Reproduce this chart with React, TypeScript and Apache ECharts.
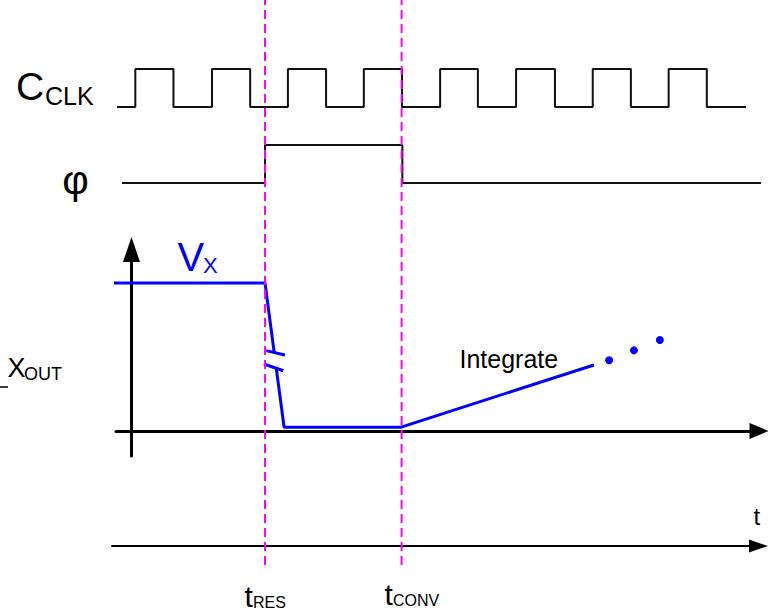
import React, { useEffect, useRef } from "react";
import * as echarts from "echarts";

// time unit = half clock period; t = 0 at the V axis
const clockT = [-0.38, 0.1, 1.1, 2.11, 3.11, 4.1, 5.1, 6.09, 7.09, 8.09, 9.08, 10.08, 11.1, 12.09, 13.09, 14.08, 15.08, 16.11];
const clockLevel = [0, 1, 0, 1, 0, 1, 0, 1, 0, 1, 0, 1, 0, 1, 0, 1, 0, 0];

const phiT = [-0.25, 3.5, 7.1, 16.5];
const phiLevel = [0, 1, 0, 0];

const vxUpperT = [-0.54, 3.5, 3.74];
const vxUpperV = [1, 1, 0.53];
const vxLowerT = [3.79, 4.0, 7.05, 12.12];
const vxLowerV = [0.432, 0.025, 0.025, 0.446];

const breakUpperT = [3.53, 4.02];
const breakUpperV = [0.543, 0.514];
const breakLowerT = [3.47, 3.98];
const breakLowerV = [0.453, 0.407];

const dotsT = [12.52, 13.17, 13.85];
const dotsV = [0.478, 0.545, 0.615];

const markerNames = ["tRES", "tCONV"];
const markerT = [3.5, 7.08];

// layout constants
const PX = 38.15;
const ORIGIN = 131.5;
const toT = (p: number) => (p - ORIGIN) / PX;

const zip = (a: number[], b: number[]) => a.map((v, i) => [v, b[i]]);

const FONT = '"Liberation Sans", Arial, sans-serif';
const BLUE = "#0000ff";
const MAGENTA = "#ff00ff";

function txt(text: string, x: number, y: number, size: number, fill = "#000", align = "left") {
  return {
    type: "text",
    x,
    y,
    z: 100,
    style: {
      text,
      fontSize: size,
      fontFamily: FONT,
      fill,
      align,
      textAlign: align,
      verticalAlign: "middle",
      textVerticalAlign: "middle",
    },
  };
}

export default function App() {
  const ref = useRef<HTMLDivElement>(null);
  useEffect(() => {
    if (!ref.current) return;
    const chart = echarts.init(ref.current, undefined, { renderer: "svg" });
    const hidden = { show: false };
    const fullX = (gridIndex: number) => ({
      type: "value",
      gridIndex,
      min: toT(0),
      max: toT(768),
      show: false,
      splitLine: hidden,
    });
    const hiddenY = (gridIndex: number, min: number, max: number) => ({
      type: "value",
      gridIndex,
      min,
      max,
      show: false,
      splitLine: hidden,
    });
    const option: any = {
      animation: false,
      backgroundColor: "#fff",
      grid: [
        { left: 0, top: 69, width: 768, height: 38 },
        { left: 0, top: 145, width: 768, height: 38 },
        { left: 116, top: 249.5, width: 643, height: 206.5 },
        { left: 0, top: 0, width: 768, height: 565 },
        { left: 112, top: 500, width: 646.5, height: 46 },
      ],
      xAxis: [
        fullX(0),
        fullX(1),
        {
          type: "value",
          gridIndex: 2,
          min: toT(116),
          max: toT(759),
          axisLine: {
            show: true,
            onZero: true,
            symbol: ["none", "triangle"],
            symbolSize: [16, 19],
            lineStyle: { color: "#000", width: 3 },
          },
          axisTick: hidden,
          axisLabel: hidden,
          splitLine: hidden,
        },
        fullX(3),
        {
          type: "value",
          gridIndex: 4,
          min: toT(112),
          max: toT(758.5),
          axisLine: {
            show: true,
            onZero: false,
            symbol: ["none", "triangle"],
            symbolSize: [13, 19],
            lineStyle: { color: "#000", width: 2 },
          },
          axisTick: hidden,
          axisLabel: hidden,
          splitLine: hidden,
        },
      ],
      yAxis: [
        hiddenY(0, 0, 1),
        hiddenY(1, 0, 1),
        {
          type: "value",
          gridIndex: 2,
          min: -0.1689,
          max: 1.2264,
          axisLine: {
            show: true,
            onZero: true,
            symbol: ["none", "triangle"],
            symbolSize: [17, 25],
            lineStyle: { color: "#000", width: 3 },
          },
          axisTick: hidden,
          axisLabel: hidden,
          splitLine: hidden,
        },
        hiddenY(3, 0, 1),
        hiddenY(4, 0, 1),
      ],
      series: [
        {
          name: "CCLK",
          type: "line",
          xAxisIndex: 0,
          yAxisIndex: 0,
          step: "end",
          data: zip(clockT, clockLevel),
          showSymbol: false,
          clip: false,
          lineStyle: { color: "#111", width: 2 },
        },
        {
          name: "phi",
          type: "line",
          xAxisIndex: 1,
          yAxisIndex: 1,
          step: "end",
          data: zip(phiT, phiLevel),
          showSymbol: false,
          clip: false,
          lineStyle: { color: "#111", width: 2 },
        },
        ...[
          [vxUpperT, vxUpperV],
          [vxLowerT, vxLowerV],
          [breakUpperT, breakUpperV],
          [breakLowerT, breakLowerV],
        ].map(([a, b], i) => ({
          name: "VX" + i,
          type: "line",
          xAxisIndex: 2,
          yAxisIndex: 2,
          data: zip(a, b),
          showSymbol: false,
          clip: false,
          z: 5,
          lineStyle: { color: BLUE, width: 3 },
        })),
        {
          name: "dots",
          type: "scatter",
          xAxisIndex: 2,
          yAxisIndex: 2,
          data: zip(dotsT, dotsV),
          symbolSize: 8,
          clip: false,
          itemStyle: { color: BLUE, opacity: 1 },
        },
        ...markerT.map((t, i) => ({
          name: markerNames[i],
          type: "line",
          xAxisIndex: 3,
          yAxisIndex: 3,
          data: [
            [t, 0],
            [t, 1],
          ],
          showSymbol: false,
          clip: false,
          z: 10,
          lineStyle: { color: MAGENTA, width: 2, type: [9, 5] },
        })),
      ],
      graphic: [
        txt("C", 16, 86, 39),
        txt("CLK", 45, 95.5, 25),
        txt("φ", 75.5, 180, 41, "#000", "center"),
        txt("V", 177.5, 256.5, 40, BLUE),
        txt("X", 203, 265, 22, BLUE),
        {
          type: "line",
          z: 100,
          shape: { x1: 0, y1: 387, x2: 8, y2: 387 },
          style: { stroke: "#000", lineWidth: 1.5 },
        },
        txt("X", 7.5, 368, 27),
        txt("OUT", 24, 373.5, 18),
        txt("Integrate", 459.5, 359, 25),
        txt("t", 753.6, 516.5, 24),
        txt("t", 244.5, 596.5, 30),
        txt("RES", 253, 602.5, 16),
        txt("t", 384.5, 594, 30),
        txt("CONV", 393, 600.5, 16),
      ],
    };
    chart.setOption(option);
    return () => chart.dispose();
  }, []);
  return (
    <div
      ref={ref}
      style={{ position: "absolute", left: 0, top: 0, width: 768, height: 614, background: "#fff" }}
    />
  );
}
